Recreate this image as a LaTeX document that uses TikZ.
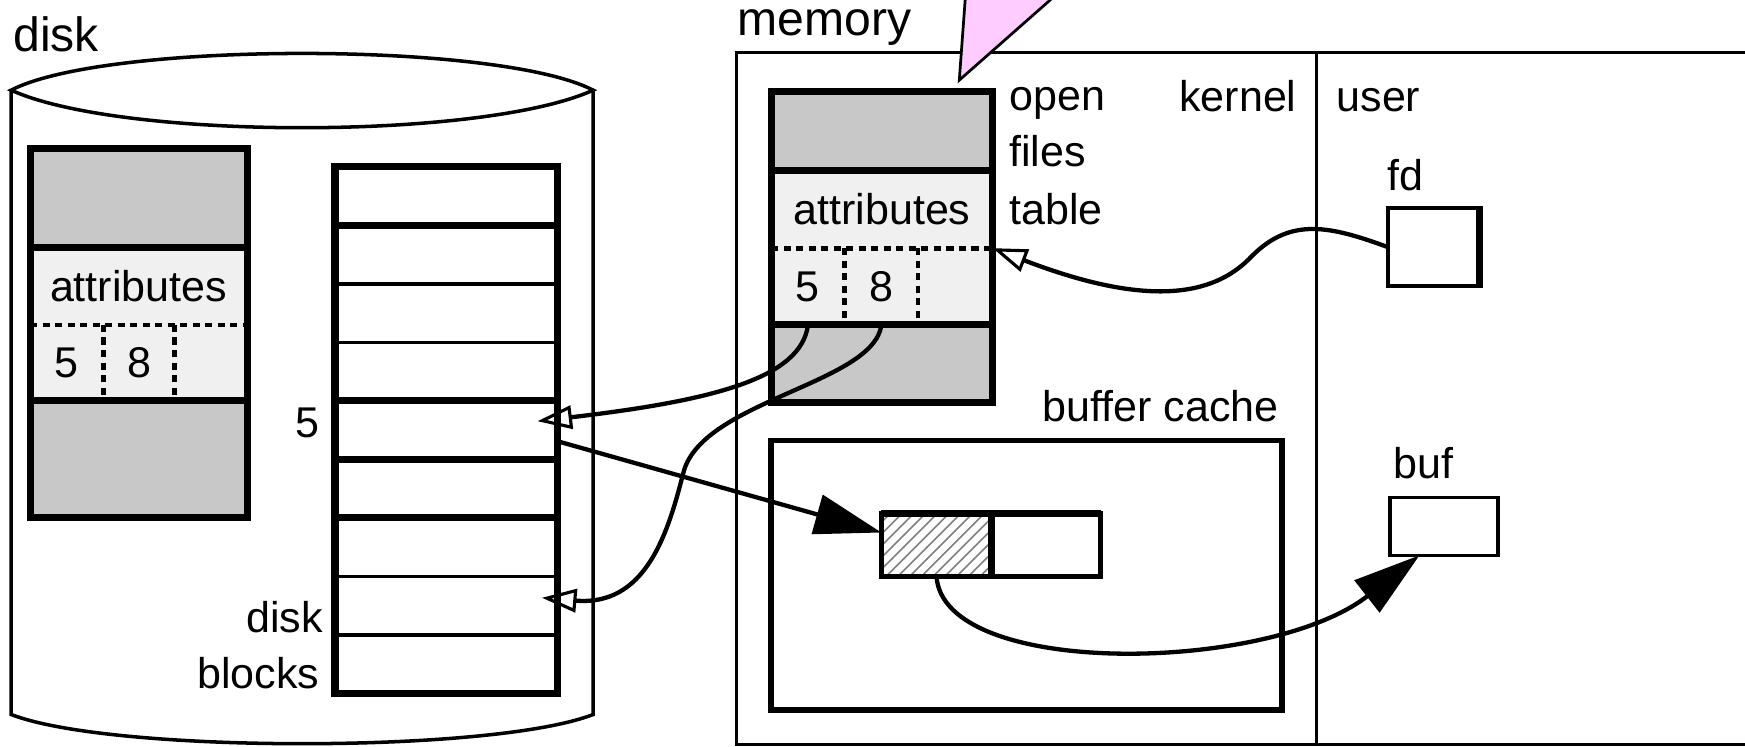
\documentclass[tikz,border=0pt]{standalone}
\usepackage{fontspec}
\setmainfont{Liberation Sans}
\usetikzlibrary{arrows.meta,calc,positioning,patterns}
\definecolor{BlockGray}{RGB}{200,200,200}
\definecolor{AttrLight}{RGB}{240,240,240}
\definecolor{NotePink}{RGB}{255,204,255}

\begin{document}
\begin{tikzpicture}[x=0.1mm,y=-0.1mm,>=Latex,
    every node/.style={inner sep=0pt,outer sep=0pt,font=\fontsize{11}{13}\selectfont},
    title/.style={anchor=base west,font=\fontsize{12.3}{15}\selectfont},
    thickbox/.style={line width=1.8pt},
    thinbox/.style={line width=0.9pt},
    dotline/.style={line width=1.2pt,dash pattern=on 1.8pt off 1.4pt},
    conn/.style={line width=1.1pt},
    openhead/.style={-{Triangle[open,length=3.1mm,width=2.1mm,line width=0.8pt]}},
    bighead/.style={-{Triangle[length=6mm,width=3.6mm]}}]
  \useasboundingbox (0,0) rectangle (1568,671);

  \node[title] (disklbl) at (12,46) {disk};
  \draw[thinbox] (10,81) -- (10,642) .. controls (100,677) and (443,677) .. (533,642) -- (533,81);
  \draw[thinbox] (10,81) .. controls (95,37) and (448,37) .. (533,81) .. controls (434,126) and (109,126) .. cycle;

  \node[fill=BlockGray,minimum width=19.5mm,minimum height=8.9mm] (dgtop) at (124.5,177.5) {};
  \node[fill=AttrLight,minimum width=19.5mm,minimum height=7mm,below=0pt of dgtop] (dattr) {attributes};
  \node[fill=AttrLight,minimum width=19.5mm,minimum height=6.8mm,below=0pt of dattr] (dnums) {};
  \node[fill=BlockGray,minimum width=19.5mm,minimum height=10.5mm,below=0pt of dnums] (dgbot) {};
  \node[minimum width=6.6mm,minimum height=6.8mm,anchor=north west] (dfive) at (dnums.north west) {5};
  \node[minimum width=6.4mm,minimum height=6.8mm,right=0pt of dfive] (deight) {8};
  \draw[thickbox] (dgtop.north west) rectangle (dgbot.south east);
  \draw[thickbox] (dgtop.south west) -- (dgtop.south east) (dgbot.north west) -- (dgbot.north east);
  \draw[dotline] (dnums.north west) -- (dnums.north east) (dfive.north east) -- (dfive.south east)
    (deight.north east) -- (deight.south east);

  \foreach \i in {1,...,9}
    \node[draw,thinbox,minimum width=20mm,minimum height=5.255mm] (blk\i) at (401,{150+52.55*(\i-0.5)}) {};
  \draw[thickbox] (blk1.north west) rectangle (blk9.south east);
  \foreach \i in {1,4,5,6}
    \draw[thickbox] (blk\i.south west) -- (blk\i.south east);
  \node[anchor=base east] (blkfive) at (287,393) {5};
  \node[anchor=base east] (blkdisk) at (290,568) {disk};
  \node[anchor=base east] (blkblocks) at (287,619) {blocks};

  \node[title] (memlbl) at (663,32) {memory};
  \draw[thinbox] (662,47) rectangle (1600,669) (1183,47) -- (1183,669);
  \node[fill=BlockGray,minimum width=19.9mm,minimum height=7.1mm] (tgtop) at (792.5,117.5) {};
  \node[fill=AttrLight,minimum width=19.9mm,minimum height=7mm,below=0pt of tgtop] (tattr) {attributes};
  \node[fill=AttrLight,minimum width=19.9mm,minimum height=6.9mm,below=0pt of tattr] (tnums) {};
  \node[fill=BlockGray,minimum width=19.9mm,minimum height=7mm,below=0pt of tnums] (tgbot) {};
  \node[minimum width=6.6mm,minimum height=6.9mm,anchor=north west] (tfive) at (tnums.north west) {5};
  \node[minimum width=6.6mm,minimum height=6.9mm,right=0pt of tfive] (teight) {8};
  \draw[thickbox] (tgtop.north west) rectangle (tgbot.south east);
  \draw[thickbox] (tgtop.south west) -- (tgtop.south east) (tgbot.north west) -- (tgbot.north east);
  \draw[dotline] (tnums.north west) -- (tnums.north east) (tfive.north east) -- (tfive.south east)
    (teight.north east) -- (teight.south east);
  \filldraw[fill=NotePink,line width=0.7pt] (868,-10) -- (862,72) -- (955,-10) -- cycle;

  \node[anchor=base west] (openlbl) at (907,99) {open};
  \node[anchor=base west] (fileslbl) at (907,150) {files};
  \node[anchor=base west] (tablelbl) at (907,202) {table};
  \node[anchor=base east] (kernlbl) at (1165,100) {kernel};
  \node[anchor=base west] (userlbl) at (1201,100) {user};
  \node[anchor=base west] (fdlbl) at (1247,171) {fd};
  \node[draw,thinbox,minimum width=8.4mm,minimum height=7mm] (fd) at (1289,222) {};
  \draw[thickbox] ([xshift=-0.2mm]fd.north east) -- ([xshift=-0.2mm]fd.south east);

  \node[anchor=base east] (cachelbl) at (1149,379) {buffer cache};
  \draw[line width=1.4pt] (693,396) rectangle (1152,638);
  \node[draw,line width=1.1pt,pattern=north east lines,pattern color=gray,minimum width=9.9mm,minimum height=5.7mm] (hatch) at (841.5,489.5) {};
  \node[draw,line width=1.1pt,minimum width=9.8mm,minimum height=5.7mm,right=0pt of hatch] (slot) {};
  \draw[thickbox] (hatch.north west) -- (slot.north east) (hatch.north east) -- (hatch.south east);
  \node[anchor=base west] (buflbl) at (1252,430) {buf};
  \node[draw,thinbox,minimum width=9.7mm,minimum height=5.2mm] (buf) at (1297.5,473) {};

  \draw[conn,openhead] (fd.west) .. controls (1195,203) and (1160,195) .. (1125,230)
    .. controls (1095,262) and (1040,280) .. (tattr.south east);
  \draw[conn,openhead] (tfive.south) .. controls (720,340) and (640,360) .. ([xshift=-1.8mm,yshift=0.8mm]blk5.east);
  \draw[conn,openhead] (teight.south) .. controls (785,345) and (630,360) .. (614,425)
    .. controls (600,480) and (580,545) .. ([xshift=-1.4mm,yshift=0.7mm]blk8.east);
  \draw[conn,bighead] ([yshift=-1mm]blk5.east) -- ([yshift=1.1mm]hatch.west);
  \draw[conn,bighead] (hatch.south) .. controls (848,610) and (1140,605) .. ([xshift=-2.2mm]buf.south);
\end{tikzpicture}
\end{document}
